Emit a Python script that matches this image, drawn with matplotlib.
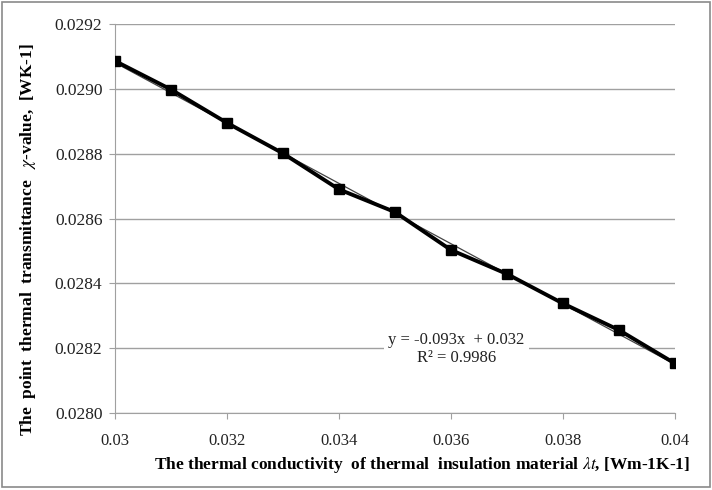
import numpy as np
import matplotlib
matplotlib.use('Agg')
import matplotlib.pyplot as plt

# thermal conductivity of insulation, W/mK
conductivity = [0.030, 0.031, 0.032, 0.033, 0.034, 0.035, 0.036, 0.037, 0.038, 0.039, 0.040]
# point thermal transmittance chi-value, W/K
chi_value = [0.029086, 0.028998, 0.028895, 0.028801, 0.028690, 0.028620,
             0.028503, 0.028429, 0.028338, 0.028256, 0.028153]

x_ticks = [0.030, 0.032, 0.034, 0.036, 0.038, 0.040]
x_tick_labels = ['0.03', '0.032', '0.034', '0.036', '0.038', '0.04']
y_ticks = [0.0280, 0.0282, 0.0284, 0.0286, 0.0288, 0.0290, 0.0292]

plt.rcParams['font.family'] = ['Liberation Serif', 'DejaVu Serif']
plt.rcParams['mathtext.fontset'] = 'stix'

fig = plt.figure(figsize=(7.12, 4.9), dpi=100)
ax = fig.add_axes([0.1615, 0.157, 0.7865, 0.794])

# linear trendline
coef = np.polyfit(conductivity, chi_value, 1)
xs = np.array([conductivity[0], conductivity[-1]])
ax.plot(xs, np.polyval(coef, xs), color='#444444', lw=0.9, zorder=3)

ax.plot(conductivity, chi_value, color='black', lw=2.8, marker='s', markersize=7,
        zorder=4)

ax.set_xlim(0.030, 0.040)
ax.set_ylim(0.0280, 0.0292)
ax.set_xticks(x_ticks)
ax.set_xticklabels(x_tick_labels)
ax.set_yticks(y_ticks)
ax.set_yticklabels(['%.4f' % v for v in y_ticks])
ax.grid(axis='y', color='#a0a0a0', lw=1)
ax.set_axisbelow(True)
for s in ['top', 'right']:
    ax.spines[s].set_visible(False)
for s in ['left', 'bottom']:
    ax.spines[s].set_color('#a0a0a0')
ax.tick_params(axis='both', direction='out', length=4, color='#a0a0a0',
               labelsize=12.5, labelcolor='#222222', pad=5)
ax.tick_params(axis='x', labelsize=12, pad=10)

ax.text(0.0361, 0.028197, 'y = -0.093x  + 0.032\nR² = 0.9986', ha='center', va='center',
        fontsize=12, color='#222222', linespacing=1.2,
        bbox=dict(facecolor='white', edgecolor='none', pad=3), zorder=2)

fig.text(0.04, 0.51, r'The  point  thermal  transmittance   $\chi$-value,  [WK-1]',
         rotation=90, ha='center', va='center', fontsize=12.5, fontweight='bold')
fig.text(0.593, 0.052, r'The thermal conductivity  of thermal  insulation material $\lambda t$, [Wm-1K-1]',
         ha='center', va='center', fontsize=12.5, fontweight='bold')

# chart border
fig.patches.append(plt.Rectangle((0.003, 0.006), 0.994, 0.99, transform=fig.transFigure,
                                 fill=False, edgecolor='#8a8a8a', lw=1.2))

fig.savefig('out.png', dpi=100)
